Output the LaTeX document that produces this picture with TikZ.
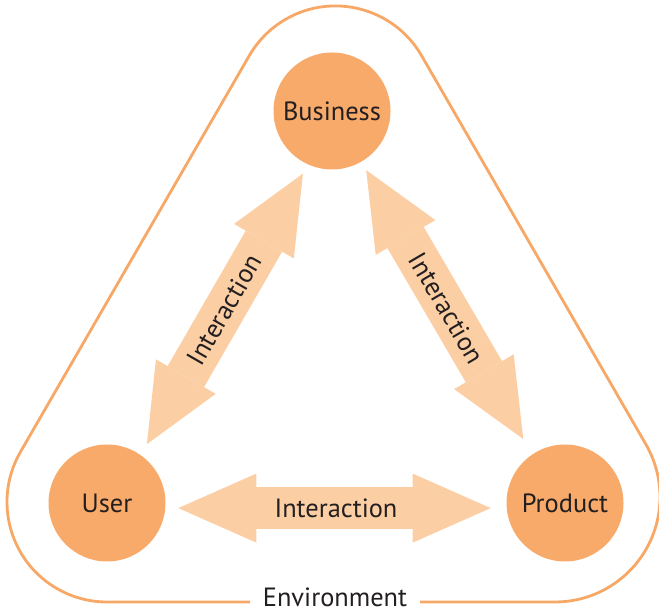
\documentclass[tikz,border=0pt]{standalone}
\usepackage{fontspec}
\setmainfont{PT Sans}
\usetikzlibrary{arrows.meta}
\definecolor{actorfill}{RGB}{248,170,106}
\definecolor{linkfill}{RGB}{252,206,164}
\definecolor{envline}{RGB}{247,168,103}
\definecolor{labeltext}{RGB}{35,31,32}
\newcommand{\labelfont}{\fontsize{26.5}{29}\selectfont}
\newcommand{\actorstate}[3]{
	\node [fill=actorfill, circle, inner sep=0pt, minimum size=117bp, text=labeltext, font=\labelfont] (#1) at (#2) {#3};}
\tikzset{
	interaction/.style={draw=linkfill, line width=42bp, >={Triangle[length=78bp,width=69bp,line width=0pt]}, <->},
	linklabel/.style={text=labeltext, font=\labelfont, inner sep=0pt}
}

\begin{document}
\begin{tikzpicture}[x=1bp,y=1bp]
	\useasboundingbox (0,0) rectangle (659,614);
	\draw [envline, line width=2.8bp] (107,12) -- (555,12) arc [start angle=-90, end angle=30, radius=105bp] -- (421.6,558.3) arc [start angle=30, end angle=150, radius=99.5bp] -- (20.4,162) arc [start angle=150, end angle=270, radius=100bp] -- cycle;
	\node [fill=white, inner xsep=13bp, inner ysep=2bp, anchor=base, text=labeltext, font=\labelfont] (env) at (335,7) {Environment};
	\actorstate{business}{332,503}{Business}
	\actorstate{user}{107,111}{User}
	\actorstate{product}{565,111}{Product}
	\draw [interaction, shorten <=10.4bp, shorten >=12.4bp] (business.246) -- node [sloped, linklabel] {Interaction} (user.55);
	\draw [interaction, shorten <=9.6bp, shorten >=17.7bp] (business.300) -- node [sloped, linklabel] {Interaction} (product.124);
	\draw [interaction, shorten <=12.8bp, shorten >=15.8bp] (user.-5.6) -- node [linklabel] {Interaction} (product.185.4);
\end{tikzpicture}
\end{document}
